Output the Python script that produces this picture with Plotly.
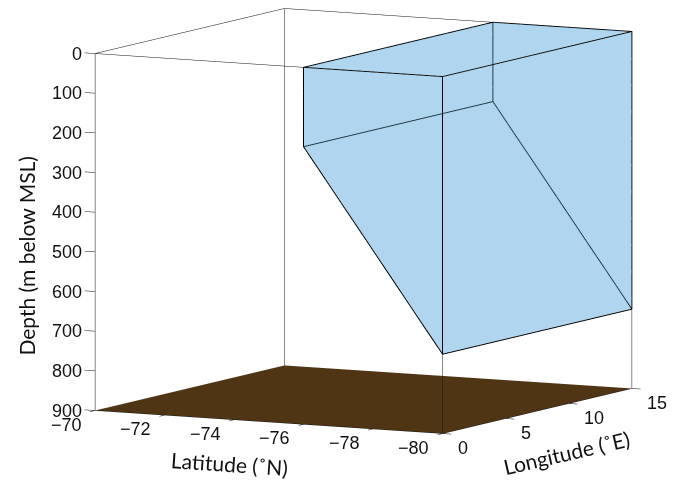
import numpy as np
import plotly.graph_objects as go

# ---------------- data ----------------
lat_ticks = [-70, -72, -74, -76, -78, -80]
lon_ticks = [0, 5, 10, 15]
depth_ticks = [0, 100, 200, 300, 400, 500, 600, 700, 800, 900]

lat_lim = [-80, -70]
lon_lim = [0, 15]
depth_lim = [0, 900]

# blue region: cross-section in (latitude, depth), extruded across longitude
region_lat = [-76, -80, -80, -76]
region_depth = [0, 0, 700, 200]
region_lon = [0, 15]

floor_depth = 900

BLUE = "rgb(98,175,222)"
BROWN = "rgb(80,53,20)"
EDGE = "rgb(20,20,20)"

# ---------------- blue solid ----------------
vx, vy, vz = [], [], []
for lo in region_lon:
    for la, d in zip(region_lat, region_depth):
        vx.append(lo); vy.append(la); vz.append(-d)
n = len(region_lat)
I, J, K = [], [], []
for k in range(2):
    b = k * n
    for j in range(1, n - 1):
        I.append(b); J.append(b + j); K.append(b + j + 1)
for j in range(n):
    j2 = (j + 1) % n
    I += [j, j]; J += [j2, n + j2]; K += [n + j2, n + j]

light = dict(ambient=1, diffuse=0, specular=0, fresnel=0, roughness=1)
solid = go.Mesh3d(x=vx, y=vy, z=vz, i=I, j=J, k=K, color=BLUE, opacity=0.3,
                  flatshading=True, lighting=light, hoverinfo="skip")

# edges of blue solid
ex, ey, ez = [], [], []
for k in range(2):
    for j in list(range(n)) + [0]:
        ex.append(region_lon[k]); ey.append(region_lat[j]); ez.append(-region_depth[j])
    ex.append(None); ey.append(None); ez.append(None)
for j in range(n):
    for k in range(2):
        ex.append(region_lon[k]); ey.append(region_lat[j]); ez.append(-region_depth[j])
    ex.append(None); ey.append(None); ez.append(None)
solid_edges = go.Scatter3d(x=ex, y=ey, z=ez, mode="lines",
                           line=dict(color="black", width=2), hoverinfo="skip")

# ---------------- floor ----------------
floor = go.Mesh3d(x=[lon_lim[0], lon_lim[1], lon_lim[1], lon_lim[0]],
                  y=[lat_lim[1], lat_lim[1], lat_lim[0], lat_lim[0]],
                  z=[-floor_depth] * 4, i=[0, 0], j=[1, 2], k=[2, 3],
                  color=BROWN, flatshading=True, lighting=light, hoverinfo="skip")

# ---------------- box edges + ticks ----------------
bx, by, bz = [], [], []
def seg(p, q):
    bx.extend([p[0], q[0], None]); by.extend([p[1], q[1], None]); bz.extend([p[2], q[2], None])

top = -depth_lim[0]; bot = -depth_lim[1]
corners = [(lon_lim[0], lat_lim[1]), (lon_lim[0], lat_lim[0]),
           (lon_lim[1], lat_lim[0]), (lon_lim[1], lat_lim[1])]
for a in range(4):
    p = corners[a]; q = corners[(a + 1) % 4]
    seg((p[0], p[1], top), (q[0], q[1], top))
    seg((p[0], p[1], top), (p[0], p[1], bot))
seg((lon_lim[0], lat_lim[1], bot), (lon_lim[0], lat_lim[0], bot))
seg((lon_lim[0], lat_lim[0], bot), (lon_lim[1], lat_lim[0], bot))
for d in depth_ticks:
    seg((lon_lim[0], lat_lim[1], -d), (lon_lim[0], lat_lim[1] + 0.3, -d))
for la in lat_ticks:
    seg((lon_lim[0], la, bot), (lon_lim[0] - 0.4, la, bot))
for lo in lon_ticks:
    seg((lo, lat_lim[0], bot), (lo, lat_lim[0] - 0.25, bot))
box = go.Scatter3d(x=bx, y=by, z=bz, mode="lines",
                   line=dict(color=EDGE, width=1), hoverinfo="skip")

# ---------------- labels (scene annotations) ----------------
tick_font = dict(family="Liberation Sans, Arial, sans-serif", size=18, color="#111")
title_font = dict(family="Lato, sans-serif", size=21, color="#111")
ann = []
for d in depth_ticks:
    ann.append(dict(x=lon_lim[0], y=lat_lim[1], z=-d, text=str(d), showarrow=False,
                    xanchor="right", yanchor="middle", xshift=-12, font=tick_font))
for la in lat_ticks:
    ann.append(dict(x=lon_lim[0], y=la, z=bot, text=str(la).replace("-", "\u2212"),
                    showarrow=False, xanchor="center", yanchor="middle",
                    xshift=-29, yshift=-14, font=tick_font))
for lo in lon_ticks:
    ann.append(dict(x=lo, y=lat_lim[0], z=bot, text=str(lo), showarrow=False,
                    xanchor="left", yanchor="middle", xshift=13, yshift=-14, font=tick_font))
ann.append(dict(x=lon_lim[0], y=lat_lim[1], z=-450, text="Depth (m below MSL)",
                showarrow=False, textangle=-90, xanchor="center", yanchor="middle",
                xshift=-69, yshift=-24, font=title_font))
ann.append(dict(x=lon_lim[0], y=-75, z=bot, text="Latitude (\u02daN)", showarrow=False,
                textangle=4, xanchor="center", yanchor="middle",
                xshift=-40, yshift=-41, font=title_font))
ann.append(dict(x=7.5, y=lat_lim[0], z=bot, text="Longitude (\u02daE)", showarrow=False,
                textangle=-13, xanchor="center", yanchor="middle",
                xshift=29, yshift=-41, font=title_font))

fig = go.Figure([floor, solid, box, solid_edges])

eye_dir = np.array([-0.8774, -0.4630, 0.1256])
eye = eye_dir * 2.0
S = 1.92
fig.update_layout(
    width=678, height=480, margin=dict(l=0, r=0, t=0, b=0),
    paper_bgcolor="white", showlegend=False, hovermode=False,
    scene=dict(
        domain=dict(x=[0.073, 1.0], y=[0.079, 1.0]),
        xaxis=dict(visible=False, range=[-0.5, 15.5]),
        yaxis=dict(visible=False, range=[-80.4, -69.6]),
        zaxis=dict(visible=False, range=[-900, 0]),
        aspectmode="manual",
        aspectratio=dict(x=1.020 * S, y=1.0 * S, z=0.848 * S),
        camera=dict(eye=dict(x=eye[0], y=eye[1], z=eye[2]),
                    up=dict(x=0, y=0, z=1), center=dict(x=0, y=0, z=0),
                    projection=dict(type="orthographic")),
        annotations=ann,
    ),
)
fig.write_html("out.html")
